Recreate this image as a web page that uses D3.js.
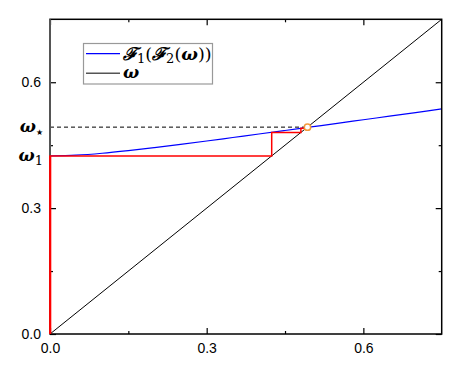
<!DOCTYPE html>
<html><head><meta charset="utf-8">
<script src="https://cdn.jsdelivr.net/npm/d3@7"></script>
<style>body{margin:0;background:#fff}</style>
</head><body>
<svg id="c" width="469" height="376"></svg>
<script>
// Data
const curveX = [0,0.05,0.1,0.15,0.2,0.25,0.3,0.35,0.4,0.45,0.5,0.55,0.6,0.65,0.7,0.75];
const curveY = [0.4245,0.4263,0.4308,0.4371,0.4443,0.4520,0.4600,0.4683,0.4766,0.4850,0.4935,0.5020,0.5106,0.5192,0.5278,0.5364];
const iterates = [0, 0.4245, 0.4804, 0.4905, 0.4924];
const fixedPoint = 0.493;
const omega1 = 0.4245;
const majorTicks = [0, 0.3, 0.6];
const minorTicks = [0.15, 0.45];
const tickLabels = ["0.0","0.3","0.6"];

const svg = d3.select("#c");
const L=50, R=441.7, T=19.3, B=334;
const x = d3.scaleLinear().domain([0,0.75]).range([L,R]);
const y = d3.scaleLinear().domain([0,0.75]).range([B,T]);

// diagonal
svg.append("line").attr("x1",x(0)).attr("y1",y(0)).attr("x2",x(0.75)).attr("y2",y(0.75))
  .attr("stroke","#000").attr("stroke-width",1);

// dashed line
svg.append("line").attr("x1",x(0)).attr("y1",y(fixedPoint)).attr("x2",x(fixedPoint)).attr("y2",y(fixedPoint))
  .attr("stroke","#000").attr("stroke-width",1).attr("stroke-dasharray","4,3");

// blue curve
const pts = curveX.map((v,i)=>[v,curveY[i]]);
svg.append("path").datum(pts).attr("fill","none").attr("stroke","#0000ff").attr("stroke-width",1.2)
  .attr("d", d3.line().x(d=>x(d[0])).y(d=>y(d[1])).curve(d3.curveMonotoneX));

// axes with inward ticks
const axB = d3.axisBottom(x).tickValues(majorTicks).tickSize(-6).tickPadding(9).tickFormat((d,i)=>tickLabels[i]);
const axL = d3.axisLeft(y).tickValues(majorTicks).tickSize(-6).tickPadding(9).tickFormat((d,i)=>tickLabels[i]);
const axT = d3.axisTop(x).tickValues(majorTicks).tickSize(-6).tickFormat("");
const axR = d3.axisRight(y).tickValues(majorTicks).tickSize(-6).tickFormat("");
const mB = d3.axisBottom(x).tickValues(minorTicks).tickSize(-3).tickFormat("");
const mL = d3.axisLeft(y).tickValues(minorTicks).tickSize(-3).tickFormat("");
const mT = d3.axisTop(x).tickValues(minorTicks).tickSize(-3).tickFormat("");
const mR = d3.axisRight(y).tickValues(minorTicks).tickSize(-3).tickFormat("");
function put(ax, tx, ty){
  const g = svg.append("g").attr("transform",`translate(${tx},${ty})`).call(ax);
  g.select(".domain").remove();
  g.selectAll("line").attr("stroke","#000").attr("stroke-width",1.2);
  g.selectAll("text").attr("font-family","Liberation Sans, Arial, sans-serif").attr("font-size",14).attr("fill","#000");
  return g;
}
put(axB,0,B); put(axL,L,0); put(axT,0,T); put(axR,R,0);
put(mB,0,B); put(mL,L,0); put(mT,0,T); put(mR,R,0);

// frame
svg.append("rect").attr("x",L).attr("y",T).attr("width",R-L).attr("height",B-T)
  .attr("fill","none").attr("stroke","#000").attr("stroke-width",1.5);
svg.append("line").attr("x1",L).attr("y1",T).attr("x2",L).attr("y2",B).attr("stroke","#555").attr("stroke-width",2);

// cobweb (drawn over the frame)
const cob = [[iterates[0], 0]];
for (let i=1;i<iterates.length;i++){
  cob.push([iterates[i-1], iterates[i]]);
  cob.push([iterates[i], iterates[i]]);
}
cob.pop();
svg.append("path").datum(cob).attr("fill","none").attr("stroke","#ff0000").attr("stroke-width",1.5)
  .attr("d", d3.line().x(d=>x(d[0])).y(d=>y(d[1])));
svg.append("line").attr("x1",x(0)+0.3).attr("y1",y(0)).attr("x2",x(0)+0.3).attr("y2",y(omega1))
  .attr("stroke","#ff0000").attr("stroke-width",2);

// fixed point circle
svg.append("circle").attr("cx",x(fixedPoint)).attr("cy",y(fixedPoint)).attr("r",3.2)
  .attr("fill","#fff").attr("stroke","#f39a3c").attr("stroke-width",1.5);

// omega labels on y axis
const mathFont = "DejaVu Serif, Liberation Serif, serif";
function omegaLabel(val, sub, subSize, dy){
  const t = svg.append("text").attr("x",43).attr("y",y(val)+5).attr("text-anchor","end")
    .attr("font-family",mathFont).attr("font-style","italic").attr("font-weight","bold").attr("font-size",17);
  t.append("tspan").text("ω");
  t.append("tspan").text(sub).attr("font-style","normal").attr("font-weight","normal").attr("font-size",subSize).attr("dy",dy);
}
omegaLabel(fixedPoint, "★", 8, 3);
omegaLabel(omega1, "1", 13, 4);

// legend
const lg = svg.append("g");
lg.append("rect").attr("x",83.5).attr("y",43.5).attr("width",129).attr("height",40.5)
  .attr("fill","#fff").attr("stroke","#999").attr("stroke-width",1.2);
lg.append("line").attr("x1",86).attr("x2",120).attr("y1",53.7).attr("y2",53.7).attr("stroke","#0000ff").attr("stroke-width",1.2);
lg.append("line").attr("x1",86).attr("x2",120).attr("y1",73.3).attr("y2",73.3).attr("stroke","#555").attr("stroke-width",1.5);
const t1 = lg.append("text").attr("x",123).attr("y",59.5).attr("font-family",mathFont).attr("font-size",17.5);
t1.append("tspan").text("ℱ").attr("font-style","italic").attr("font-weight","bold");
t1.append("tspan").text("1").attr("font-size",13).attr("dy",3);
t1.append("tspan").text("(").attr("dy",-3);
t1.append("tspan").text("ℱ").attr("font-style","italic").attr("font-weight","bold");
t1.append("tspan").text("2").attr("font-size",13).attr("dy",3);
t1.append("tspan").text("(").attr("dy",-3);
t1.append("tspan").text("ω").attr("font-style","italic").attr("font-weight","bold");
t1.append("tspan").text("))");
lg.append("text").attr("x",123).attr("y",78).attr("font-family",mathFont).attr("font-size",17)
  .attr("font-style","italic").attr("font-weight","bold").text("ω");
</script>
</body></html>
